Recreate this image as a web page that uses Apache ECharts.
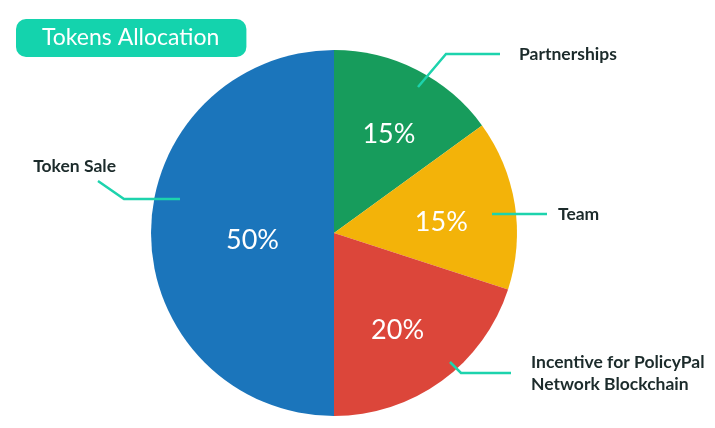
<!DOCTYPE html>
<html>
<head>
<meta charset="utf-8">
<script src="https://cdn.jsdelivr.net/npm/echarts@6/dist/echarts.min.js"></script>
<style>
  html, body { margin: 0; padding: 0; background: #fff; }
  #chart { width: 715px; height: 428px; }
</style>
</head>
<body>
<div id="chart"></div>
<script>
'use strict';

// slice data, clockwise from 12 o'clock
var categories = ['Partnerships', 'Team', 'Incentive for PolicyPal\nNetwork Blockchain', 'Token Sale'];
var shares = [15, 15, 20, 50];
var colors = ['#179c5c', '#f3b309', '#dc463a', '#1b75bb'];

var CX = 334, CY = 233, R = 183;

// leader lines: points relative to pie center, plus label anchor
var leaders = [
  { pts: [[84, -146], [112, -179], [166, -179]], at: [185, -179], align: 'left' },
  { pts: [[158, -19], [185, -19], [213, -19]], at: [224, -19], align: 'left' },
  { pts: [[116, 129], [127, 140], [177, 140]], at: [197, 140], align: 'left' },
  { pts: [[-154, -34], [-210, -34], [-236, -52]], at: [-218, -67], align: 'right' }
];

// small nudges for the percentage labels
var pctNudge = [[12, -15], [14, 4], [8, 21], [13, 7]];

function abs(p) { return [CX + p[0], CY + p[1]]; }

var chart = echarts.init(document.getElementById('chart'), null, { renderer: 'canvas' });

var pieData = categories.map(function (c, i) {
  return { name: c, value: shares[i], itemStyle: { color: colors[i] } };
});

chart.setOption({
  animation: false,
  title: {
    text: 'Tokens Allocation',
    left: 16,
    top: 19,
    padding: [7, 27, 8, 26],
    backgroundColor: '#14d3ad',
    borderRadius: 10,
    textStyle: {
      fontFamily: 'Lato',
      fontSize: 23,
      fontWeight: 'normal',
      color: '#fff'
    }
  },
  series: [
    {
      // coloured slices with the percentages
      type: 'pie',
      center: [CX, CY],
      radius: [0, R],
      startAngle: 90,
      clockwise: true,
      silent: true,
      data: pieData,
      label: {
        show: true,
        position: 'inside',
        formatter: '{c}%',
        fontFamily: 'Lato',
        fontSize: 27,
        color: '#fff'
      },
      labelLine: { show: false },
      labelLayout: function (params) {
        var n = pctNudge[params.dataIndex];
        return { dx: n[0], dy: n[1] };
      }
    },
    {
      // transparent copy on top, carries the names and leader lines
      type: 'pie',
      center: [CX, CY],
      radius: [0, R],
      startAngle: 90,
      clockwise: true,
      silent: true,
      z: 3,
      data: pieData.map(function (d) {
        return { name: d.name, value: d.value, itemStyle: { color: 'rgba(0,0,0,0)' } };
      }),
      label: {
        show: true,
        position: 'outside',
        formatter: '{b}',
        fontFamily: 'Lato',
        fontSize: 17.5,
        fontWeight: 'bold',
        lineHeight: 22,
        color: '#1c2b2b'
      },
      labelLine: {
        show: true,
        lineStyle: { color: '#1dd3ad', width: 2.5 }
      },
      labelLayout: function (params) {
        var l = leaders[params.dataIndex];
        var a = abs(l.at);
        return {
          x: a[0],
          y: a[1],
          align: l.align,
          verticalAlign: 'middle',
          labelLinePoints: l.pts.map(abs)
        };
      }
    }
  ]
});
</script>
</body>
</html>
